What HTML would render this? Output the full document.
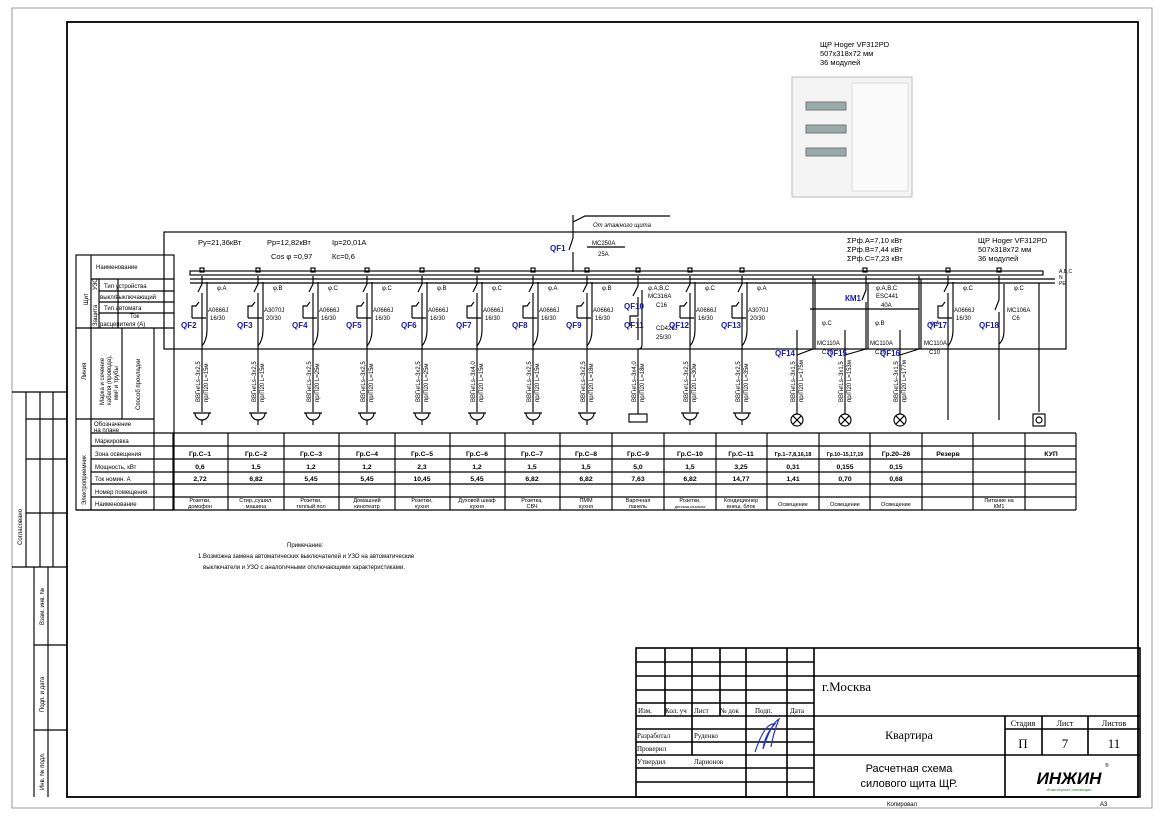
<!DOCTYPE html>
<html><head><meta charset="utf-8"><style>
html,body{margin:0;padding:0;background:#fff}
svg{display:block}
text{font-family:"Liberation Sans",sans-serif;fill:#000}
.s{font-size:6px}
.m{font-size:7.5px}
.b{fill:#1a1aa8;font-weight:bold;font-size:8px}
.t{font-family:"Liberation Serif",serif}
g path,g rect,g circle{stroke-width:1.15px}
.tb path,.tb rect{stroke-width:1.6px}
.dt text{font-weight:bold}
</style></head><body>
<svg width="1166" height="819" viewBox="0 0 1166 819" xmlns="http://www.w3.org/2000/svg">
<defs>
<g id="brk" fill="none" stroke="#000" stroke-width="0.8">
<path d="M0,276 V284 L-4,292 M0,293 V349"/>
<path d="M5,282 V330 Q5,340 0,346"/>
<path d="M-10,318 V306 h4 l3,-4 M-10,318 h14"/>
<rect x="-2" y="268" width="4" height="4"/>
</g>
<g id="cab" fill="none" stroke="#000" stroke-width="0.8"><path d="M0,349 V412"/></g>
<g id="sock" fill="none" stroke="#000" stroke-width="0.9"><path d="M-9,413 h18 M-7,413 a7,7 0 0 0 14,0 M0,420 v5"/></g>
<g id="lamp" fill="none" stroke="#000" stroke-width="0.9"><circle cx="0" cy="420" r="6"/><path d="M-4.2,415.8 l8.4,8.4 M4.2,415.8 l-8.4,8.4"/></g>
</defs>

<rect x="12" y="8" width="1140" height="800" fill="none" stroke="#999" stroke-width="1"/>
<rect x="67" y="22" width="1071" height="775" fill="none" stroke="#000" stroke-width="1.8"/>

<g stroke="#000" stroke-width="1" fill="none">
<path d="M12,392 H67 M12,567 H67 M26,392 V567 M40,392 V567 M53,392 V567 M26,419 H67 M26,459 H67 M26,513 H67"/>
<path d="M34,567 V797 M48,567 V797 M34,645 H67 M34,730 H67"/>
</g>
<text class="s" transform="translate(22,545) rotate(-90)">Согласовано</text>
<text class="s" transform="translate(44,625) rotate(-90)">Взам. инв. №</text>
<text class="s" transform="translate(44,712) rotate(-90)">Подп. и дата</text>
<text class="s" transform="translate(44,790) rotate(-90)">Инв. № подл.</text>

<text class="m" x="820" y="47">ЩР Hoger VF312PD</text>
<text class="m" x="820" y="56">507х318х72 мм</text>
<text class="m" x="820" y="65">36 модулей</text>
<rect x="792" y="77" width="120" height="120" fill="#f4f4f4" stroke="#bbb"/>
<rect x="852" y="83" width="56" height="108" fill="#fafafa" stroke="#ddd"/>
<rect x="806" y="102" width="40" height="8" fill="#9aa" stroke="#777"/>
<rect x="806" y="125" width="40" height="8" fill="#9aa" stroke="#777"/>
<rect x="806" y="148" width="40" height="8" fill="#9aa" stroke="#777"/>

<g stroke="#000" stroke-width="1" fill="none">
<rect x="76" y="255" width="98" height="255"/>
<path d="M91,255 V510 M91,279 H174 M99,279 V328 M118,279 V328 M99,291 H174 M99,302 H174 M99,313 H174 M76,328 H174 M122,328 V419 M154,328 V433 M76,419 H154 M91,433 H1076 M91,446 H1076 M91,459 H1076 M91,472 H1076 M91,484 H1076 M91,497 H1076 M76,510 H1076 M154,433 V510"/>
<path d="M173,433 V510 M228,433 V510 M284,433 V510 M339,433 V510 M395,433 V510 M450,433 V510 M505,433 V510 M560,433 V510 M612,433 V510 M664,433 V510 M716,433 V510 M767,433 V510 M819,433 V510 M870,433 V510 M922,433 V510 M973,433 V510 M1025,433 V510 M1076,433 V510"/>
</g>
<text class="s" x="96" y="269">Наименование</text>
<text class="s" transform="translate(88,305) rotate(-90)">Щит</text>
<text class="s" transform="translate(97,290) rotate(-90)">УЗО</text>
<text class="s" transform="translate(97,326) rotate(-90)">Защита</text>
<text class="s" x="104" y="288">Тип устройства</text>
<text class="s" x="100" y="299">выкл/выключающий</text>
<text class="s" x="104" y="310">Тип автомата</text>
<text class="s" x="130" y="318">Ток</text>
<text class="s" x="100" y="326">расцепителя (А)</text>
<text class="s" transform="translate(86,380) rotate(-90)">Линия</text>
<text class="s" transform="translate(104,405) rotate(-90)">Марка и сечение</text>
<text class="s" transform="translate(111,405) rotate(-90)">кабеля (провода),</text>
<text class="s" transform="translate(118,400) rotate(-90)">мм² и трубы</text>
<text class="s" transform="translate(140,410) rotate(-90)">Способ прокладки</text>
<text class="s" x="94" y="426">Обозначение</text>
<text class="s" x="94" y="432">на плане</text>
<text class="s" transform="translate(86,505) rotate(-90)">Электроприемник</text>
<text class="s" x="95" y="443">Маркировка</text>
<text class="s" x="95" y="456">Зона освещения</text>
<text class="s" x="95" y="469">Мощность, кВт</text>
<text class="s" x="95" y="481">Ток номин. А</text>
<text class="s" x="95" y="494">Номер помещения</text>
<text class="s" x="95" y="506">Наименование</text>

<rect x="164" y="232" width="902" height="117" fill="none" stroke="#000" stroke-width="1.2"/>
<text class="m" x="198" y="245">Ру=21,36кВт</text>
<text class="m" x="267" y="245">Рр=12,82кВт</text>
<text class="m" x="332" y="245">Iр=20,01А</text>
<text class="m" x="271" y="259">Cos φ =0,97</text>
<text class="m" x="332" y="259">Кс=0,6</text>
<text class="m" x="847" y="243">ΣPф.А=7,10 кВт</text>
<text class="m" x="847" y="252">ΣPф.В=7,44 кВт</text>
<text class="m" x="847" y="261">ΣPф.С=7,23 кВт</text>
<text class="m" x="978" y="243">ЩР Hoger VF312PD</text>
<text class="m" x="978" y="252">507х318х72 мм</text>
<text class="m" x="978" y="261">36 модулей</text>

<g stroke="#000" stroke-width="0.9" fill="none">
<path d="M573,215 V238 L569,250 M573,252 V272"/>
<path d="M573,222 L585,216 H670"/>
<path d="M587,247 H625"/>
</g>
<text class="s" x="593" y="227" font-style="italic">От этажного щита</text>
<text class="b" x="550" y="251">QF1</text>
<text class="s" x="592" y="245">MC250A</text>
<text class="s" x="598" y="256">25A</text>

<g stroke="#000" stroke-width="0.9" fill="none">
<rect x="190" y="271" width="853" height="4"/>
<path d="M190,279 H1055 M190,283 H1055"/>
</g>
<text style="font-size:5px" x="1059" y="273">A,B,C</text>
<text style="font-size:5px" x="1059" y="279">N</text>
<text style="font-size:5px" x="1059" y="285">PE</text>

<g>
<use href="#brk" x="202"/><use href="#brk" x="258"/><use href="#brk" x="313"/><use href="#brk" x="367"/><use href="#brk" x="422"/><use href="#brk" x="477"/><use href="#brk" x="533"/><use href="#brk" x="587"/><use href="#brk" x="690"/><use href="#brk" x="742"/><use href="#brk" x="948"/>
<use href="#cab" x="202"/><use href="#cab" x="258"/><use href="#cab" x="313"/><use href="#cab" x="367"/><use href="#cab" x="422"/><use href="#cab" x="477"/><use href="#cab" x="533"/><use href="#cab" x="587"/><use href="#cab" x="638"/><use href="#cab" x="690"/><use href="#cab" x="742"/>
<use href="#sock" x="202"/><use href="#sock" x="258"/><use href="#sock" x="313"/><use href="#sock" x="367"/><use href="#sock" x="422"/><use href="#sock" x="477"/><use href="#sock" x="533"/><use href="#sock" x="587"/><use href="#sock" x="690"/><use href="#sock" x="742"/>
</g>
<g stroke="#000" stroke-width="0.9" fill="none">
<rect x="636" y="268" width="4" height="4"/>
<path d="M638,276 V286 L633,296 M638,297 V316 h-8 v10 M638,318 V340 M642,290 V345 Q642,349 638,349"/>
<rect x="629" y="414" width="18" height="8"/><path d="M638,412 v2"/>
<rect x="997" y="268" width="4" height="4"/>
<path d="M999,276 V300 L995,310 M999,312 V420 M1004,284 V330 Q1004,340 999,344"/>
<path d="M948,349 V420"/>
<path d="M1039,283 V412"/><rect x="1033" y="414" width="12" height="12"/><circle cx="1039" cy="420" r="3"/>
<rect x="863" y="268" width="4" height="4"/>
<path d="M813,276 V349 M815,279 V349 M866,276 V290 L862,300 M866,302 V349 M868,283 V349 M919,276 V349 M921,279 V349"/>
<path d="M810,309 H919"/>
<path d="M813,349 L797,355 V414 M866,349 L845,355 V414 M919,349 L900,355 V414"/>
<path d="M797,330 V355 M845,330 V355 M900,330 V355"/>
</g>
<use href="#lamp" x="797"/><use href="#lamp" x="845"/><use href="#lamp" x="900"/>

<g>
<text class="s" x="217" y="290">φ.A</text><text class="s" x="208" y="312">А0666J</text><text class="s" x="210" y="320">16/30</text><text class="b" x="181" y="328">QF2</text>
<text class="s" x="273" y="290">φ.B</text><text class="s" x="264" y="312">А3070J</text><text class="s" x="266" y="320">20/30</text><text class="b" x="237" y="328">QF3</text>
<text class="s" x="328" y="290">φ.C</text><text class="s" x="319" y="312">А0666J</text><text class="s" x="321" y="320">16/30</text><text class="b" x="292" y="328">QF4</text>
<text class="s" x="382" y="290">φ.C</text><text class="s" x="373" y="312">А0666J</text><text class="s" x="375" y="320">16/30</text><text class="b" x="346" y="328">QF5</text>
<text class="s" x="437" y="290">φ.B</text><text class="s" x="428" y="312">А0666J</text><text class="s" x="430" y="320">16/30</text><text class="b" x="401" y="328">QF6</text>
<text class="s" x="492" y="290">φ.C</text><text class="s" x="483" y="312">А0666J</text><text class="s" x="485" y="320">16/30</text><text class="b" x="456" y="328">QF7</text>
<text class="s" x="548" y="290">φ.A</text><text class="s" x="539" y="312">А0666J</text><text class="s" x="541" y="320">16/30</text><text class="b" x="512" y="328">QF8</text>
<text class="s" x="602" y="290">φ.B</text><text class="s" x="593" y="312">А0666J</text><text class="s" x="595" y="320">16/30</text><text class="b" x="566" y="328">QF9</text>
<text class="s" x="648" y="290">φ.A,B,C</text><text class="s" x="648" y="298">MC316A</text><text class="s" x="656" y="307">C16</text><text class="b" x="624" y="309">QF10</text>
<text class="s" x="656" y="330">CD426J</text><text class="s" x="656" y="339">25/30</text><text class="b" x="624" y="328">QF11</text>
<text class="s" x="705" y="290">φ.C</text><text class="s" x="696" y="312">А0666J</text><text class="s" x="698" y="320">16/30</text><text class="b" x="669" y="328">QF12</text>
<text class="s" x="757" y="290">φ.A</text><text class="s" x="748" y="312">А3070J</text><text class="s" x="750" y="320">20/30</text><text class="b" x="721" y="328">QF13</text>
<text class="s" x="822" y="325">φ.C</text><text class="s" x="817" y="345">MC110A</text><text class="s" x="822" y="354">C10</text><text class="b" x="775" y="356">QF14</text>
<text class="s" x="876" y="290">φ.A,B,C</text><text class="s" x="876" y="298">ESC441</text><text class="s" x="881" y="307">40A</text><text class="b" x="845" y="301">КМ1</text>
<text class="s" x="875" y="325">φ.B</text><text class="s" x="870" y="345">MC110A</text><text class="s" x="875" y="354">C10</text><text class="b" x="827" y="356">QF15</text>
<text class="s" x="930" y="325">φ.A</text><text class="s" x="924" y="345">MC110A</text><text class="s" x="929" y="354">C10</text><text class="b" x="880" y="356">QF16</text>
<text class="s" x="963" y="290">φ.C</text><text class="s" x="954" y="312">А0666J</text><text class="s" x="956" y="320">16/30</text><text class="b" x="927" y="328">QF17</text>
<text class="s" x="1014" y="290">φ.C</text><text class="s" x="1007" y="312">MC106A</text><text class="s" x="1012" y="320">C6</text><text class="b" x="979" y="328">QF18</text>
</g>

<g class="s">
<text class="s" transform="translate(200,402) rotate(-90)">ВВГнгLs–3х2,5</text><text class="s" transform="translate(208,402) rotate(-90)">пр/П20 L=15м</text>
<text class="s" transform="translate(256,402) rotate(-90)">ВВГнгLs–3х2,5</text><text class="s" transform="translate(264,402) rotate(-90)">пр/П20 L=15м</text>
<text class="s" transform="translate(311,402) rotate(-90)">ВВГнгLs–3х2,5</text><text class="s" transform="translate(319,402) rotate(-90)">пр/П20 L=25м</text>
<text class="s" transform="translate(365,402) rotate(-90)">ВВГнгLs–3х2,5</text><text class="s" transform="translate(373,402) rotate(-90)">пр/П20 L=15м</text>
<text class="s" transform="translate(420,402) rotate(-90)">ВВГнгLs–3х2,5</text><text class="s" transform="translate(428,402) rotate(-90)">пр/П20 L=25м</text>
<text class="s" transform="translate(475,402) rotate(-90)">ВВГнгLs–3х4,0</text><text class="s" transform="translate(483,402) rotate(-90)">пр/П20 L=15м</text>
<text class="s" transform="translate(531,402) rotate(-90)">ВВГнгLs–3х2,5</text><text class="s" transform="translate(539,402) rotate(-90)">пр/П20 L=15м</text>
<text class="s" transform="translate(585,402) rotate(-90)">ВВГнгLs–3х2,5</text><text class="s" transform="translate(593,402) rotate(-90)">пр/П20 L=18м</text>
<text class="s" transform="translate(636,402) rotate(-90)">ВВГнгLs–3х4,0</text><text class="s" transform="translate(644,402) rotate(-90)">пр/П20 L=18м</text>
<text class="s" transform="translate(688,402) rotate(-90)">ВВГнгLs–3х2,5</text><text class="s" transform="translate(696,402) rotate(-90)">пр/П20 L=30м</text>
<text class="s" transform="translate(740,402) rotate(-90)">ВВГнгLs–3х2,5</text><text class="s" transform="translate(748,402) rotate(-90)">пр/П20 L=35м</text>
<text class="s" transform="translate(795,402) rotate(-90)">ВВГнгLs–3х1,5</text><text class="s" transform="translate(803,402) rotate(-90)">пр/П20 L=175м</text>
<text class="s" transform="translate(843,402) rotate(-90)">ВВГнгLs–3х1,5</text><text class="s" transform="translate(851,402) rotate(-90)">пр/П20 L=153м</text>
<text class="s" transform="translate(898,402) rotate(-90)">ВВГнгLs–3х1,5</text><text class="s" transform="translate(906,402) rotate(-90)">пр/П20 L=177м</text>
</g>

<g class="s dt" text-anchor="middle" style="font-size:6.8px">
<text x="200" y="456">Гр.С–1</text><text x="256" y="456">Гр.С–2</text><text x="311" y="456">Гр.С–3</text><text x="367" y="456">Гр.С–4</text><text x="422" y="456">Гр.С–5</text><text x="477" y="456">Гр.С–6</text><text x="532" y="456">Гр.С–7</text><text x="586" y="456">Гр.С–8</text><text x="638" y="456">Гр.С–9</text><text x="690" y="456">Гр.С–10</text><text x="741" y="456">Гр.С–11</text><text x="793" y="456" style="font-size:5.5px">Гр.1–7,8,16,18</text><text x="845" y="456" style="font-size:5.2px">Гр.10–15,17,19</text><text x="896" y="456">Гр.20–26</text><text x="948" y="456">Резерв</text><text x="1051" y="456">КУП</text>
<text x="200" y="469">0,6</text><text x="256" y="469">1,5</text><text x="311" y="469">1,2</text><text x="367" y="469">1,2</text><text x="422" y="469">2,3</text><text x="477" y="469">1,2</text><text x="532" y="469">1,5</text><text x="586" y="469">1,5</text><text x="638" y="469">5,0</text><text x="690" y="469">1,5</text><text x="741" y="469">3,25</text><text x="793" y="469">0,31</text><text x="845" y="469">0,155</text><text x="896" y="469">0,15</text>
<text x="200" y="481">2,72</text><text x="256" y="481">6,82</text><text x="311" y="481">5,45</text><text x="367" y="481">5,45</text><text x="422" y="481">10,45</text><text x="477" y="481">5,45</text><text x="532" y="481">6,82</text><text x="586" y="481">6,82</text><text x="638" y="481">7,63</text><text x="690" y="481">6,82</text><text x="741" y="481">14,77</text><text x="793" y="481">1,41</text><text x="845" y="481">0,70</text><text x="896" y="481">0,68</text>
</g>
<g class="s" text-anchor="middle" style="font-size:5.5px">
<text x="200" y="502">Розетки,</text><text x="200" y="508">домофон</text>
<text x="256" y="502">Стир.,сушил.</text><text x="256" y="508">машина</text>
<text x="311" y="502">Розетки,</text><text x="311" y="508">теплый пол</text>
<text x="367" y="502">Домашний</text><text x="367" y="508">кинотеатр</text>
<text x="422" y="502">Розетки,</text><text x="422" y="508">кухня</text>
<text x="477" y="502">Духовой шкаф</text><text x="477" y="508">кухня</text>
<text x="532" y="502">Розетка,</text><text x="532" y="508">СВЧ</text>
<text x="586" y="502">ПММ</text><text x="586" y="508">кухня</text>
<text x="638" y="502">Варочная</text><text x="638" y="508">панель</text>
<text x="690" y="502">Розетки,</text><text x="690" y="508" style="font-size:4px">детская,спальня</text>
<text x="741" y="502">Кондиционер</text><text x="741" y="508">внеш. блок</text>
<text x="793" y="506">Освещение</text><text x="845" y="506">Освещение</text><text x="896" y="506">Освещение</text>
<text x="999" y="502">Питание на</text><text x="999" y="508">КМ1</text>
</g>

<text class="s" x="287" y="547">Примечание:</text>
<text class="s" x="198" y="558">1.Возможна замена автоматических выключателей и УЗО на автоматические</text>
<text class="s" x="203" y="569">выключатели и УЗО с аналогичными отключающими характеристиками.</text>

<g class="tb" stroke="#000" stroke-width="1.3" fill="none">
<rect x="636" y="648" width="504" height="149"/>
<path d="M665,648 V716 M692,648 V755 M720,648 V716 M746,648 V797 M787,648 V797 M814,648 V797"/>
<path d="M636,662 H814 M636,676 H1140 M636,690 H814 M636,703 H814 M636,716 H1140 M636,729 H814 M636,742 H814 M636,755 H1140 M636,768 H814 M636,782 H814"/>
<path d="M1005,716 V797 M1042,716 V755 M1088,716 V755 M1005,729 H1140"/>
</g>
<text class="t" style="font-size:7px" x="638" y="713">Изм.</text>
<text class="t" style="font-size:7px" x="665" y="713">Кол. уч</text>
<text class="t" style="font-size:7px" x="694" y="713">Лист</text>
<text class="t" style="font-size:7px" x="720" y="713">№ док</text>
<text class="t" style="font-size:7px" x="755" y="713">Подп.</text>
<text class="t" style="font-size:7px" x="790" y="713">Дата</text>
<text class="t" style="font-size:7px" x="637" y="738">Разработал</text>
<text class="t" style="font-size:7px" x="694" y="738">Руденко</text>
<text class="t" style="font-size:7px" x="637" y="751">Проверил</text>
<text class="t" style="font-size:7px" x="637" y="764">Утвердил</text>
<text class="t" style="font-size:7px" x="694" y="764">Ларионов</text>
<path d="M755,752 q10,-30 20,-28 q-10,10 -12,25 q8,-25 16,-30 q-6,15 -8,28" fill="none" stroke="#2233cc" stroke-width="1.2"/>
<text class="t" style="font-size:13px" x="822" y="691">г.Москва</text>
<text class="t" style="font-size:12px" x="909" y="739" text-anchor="middle">Квартира</text>
<text class="t" style="font-size:8px" x="1023" y="726" text-anchor="middle">Стадия</text>
<text class="t" style="font-size:8px" x="1065" y="726" text-anchor="middle">Лист</text>
<text class="t" style="font-size:8px" x="1114" y="726" text-anchor="middle">Листов</text>
<text class="t" style="font-size:13px" x="1023" y="748" text-anchor="middle">П</text>
<text class="t" style="font-size:13px" x="1065" y="748" text-anchor="middle">7</text>
<text class="t" style="font-size:13px" x="1114" y="748" text-anchor="middle">11</text>
<text style="font-size:11px" x="909" y="772" text-anchor="middle">Расчетная схема</text>
<text style="font-size:11px" x="909" y="787" text-anchor="middle">силового щита ЩР.</text>
<text style="font-size:17px;font-weight:bold;font-style:italic" x="1069" y="784" text-anchor="middle">ИНЖИН</text>
<text style="font-size:4px;fill:#2a8a2a" x="1069" y="791" text-anchor="middle">Инженерные инновации</text>
<text style="font-size:5px" x="1105" y="767">®</text>
<text class="s" x="887" y="806">Копировал</text>
<text class="s" x="1100" y="806">A3</text>
</svg>
</body></html>
